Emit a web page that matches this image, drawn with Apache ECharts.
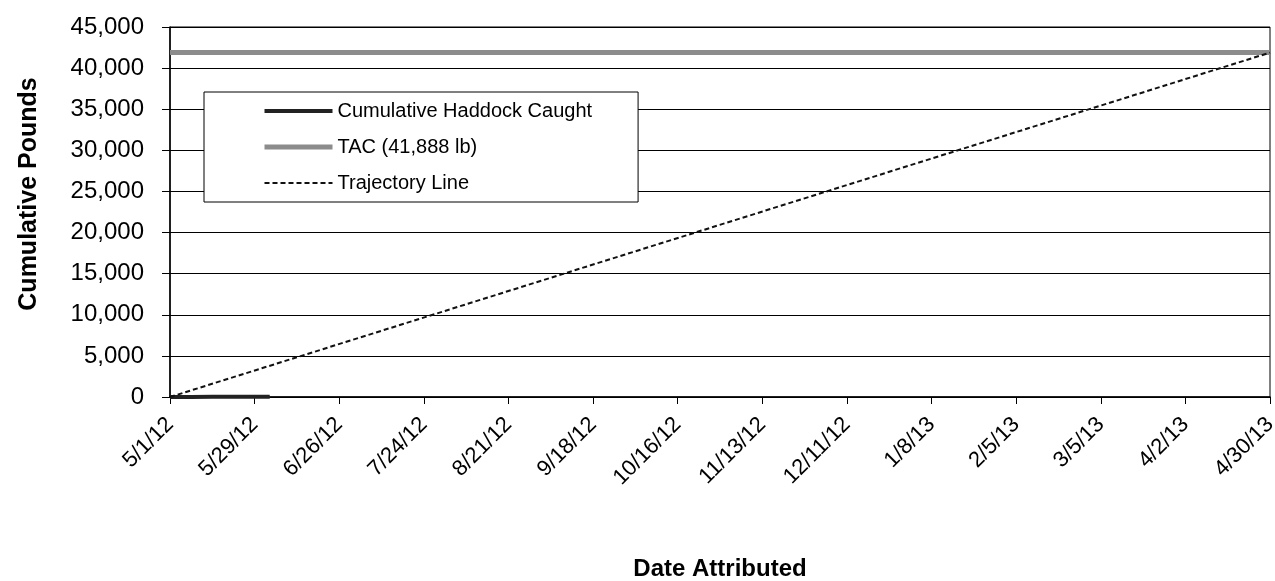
<!DOCTYPE html>
<html>
<head>
<meta charset="utf-8">
<script src="https://cdn.jsdelivr.net/npm/echarts@6/dist/echarts.min.js"></script>
<style>
  html, body { margin: 0; padding: 0; background: #fff; }
  #chart { width: 1275px; height: 581px; }
</style>
</head>
<body>
<div id="chart"></div>
<script>
// tick labels along the date axis, one every 28 days
const xTickLabels = ['5/1/12', '5/29/12', '6/26/12', '7/24/12', '8/21/12', '9/18/12', '10/16/12',
  '11/13/12', '12/11/12', '1/8/13', '2/5/13', '3/5/13', '4/2/13', '4/30/13'];

// cumulative haddock caught (lb), stays near zero
const caughtDates = ['5/1/12', '5/8/12', '5/15/12', '5/22/12', '5/29/12', '6/3/12'];
const caughtValues = [0, 10, 20, 30, 40, 45];

// total allowable catch
const tacDates = ['5/1/12', '4/30/13'];
const tacValues = [41888, 41888];

// straight-line trajectory to the TAC
const trajDates = ['5/1/12', '4/30/13'];
const trajValues = [0, 41888];

const START = Date.UTC(2012, 4, 1);
function dayOf(s) {
  const [m, d, y] = s.split('/').map(Number);
  return Math.round((Date.UTC(2000 + y, m - 1, d) - START) / 86400000);
}
function pairs(dates, vals) {
  return dates.map((d, i) => [dayOf(d), vals[i]]);
}

const FONT = '"Liberation Sans", Arial, sans-serif';
const chart = echarts.init(document.getElementById('chart'));

chart.setOption({
  backgroundColor: '#fff',
  animation: false,
  grid: {
    left: 170, right: 5, top: 27, bottom: 184,
    outerBoundsMode: 'none',
    containLabel: false,
    show: true, borderColor: '#000', borderWidth: 1
  },
  legend: {
    orient: 'vertical',
    left: 204, top: 92,
    padding: [8, 46, 8, 58],
    itemWidth: 68, itemHeight: 5, itemGap: 14,
    borderColor: '#000', borderWidth: 1,
    backgroundColor: '#fff',
    itemStyle: { opacity: 0 },
    textStyle: { fontFamily: FONT, fontSize: 20, color: '#000', lineHeight: 22 },
    data: [
      { name: 'Cumulative Haddock Caught', lineStyle: { width: 4, color: '#222' } },
      { name: 'TAC (41,888 lb)', lineStyle: { width: 5, color: '#8c8c8c' } },
      { name: 'Trajectory Line', lineStyle: { width: 2, color: '#111', type: [5, 3] } }
    ]
  },
  xAxis: {
    type: 'value',
    min: 0, max: 364, interval: 28,
    name: 'Date Attributed',
    nameLocation: 'middle',
    nameGap: 160,
    nameTextStyle: { fontFamily: FONT, fontSize: 24, fontWeight: 'bold', color: '#000' },
    axisLine: { show: true, lineStyle: { color: '#000', width: 1.5 } },
    axisTick: { show: true, length: 7, lineStyle: { color: '#000' } },
    splitLine: { show: false },
    axisLabel: {
      rotate: 45, margin: 24,
      fontFamily: FONT, fontSize: 22, color: '#000',
      formatter: v => xTickLabels[Math.round(v / 28)] || ''
    }
  },
  yAxis: {
    type: 'value',
    min: 0, max: 45000, interval: 5000,
    name: 'Cumulative Pounds',
    nameLocation: 'middle',
    nameGap: 128,
    nameTextStyle: {
      fontFamily: FONT, fontSize: 25, fontWeight: 'bold', color: '#000',
      padding: [0, 0, 0, 36]
    },
    axisLine: { show: true, lineStyle: { color: '#000', width: 1.5 } },
    axisTick: { show: true, length: 8, lineStyle: { color: '#000' } },
    splitLine: { show: true, lineStyle: { color: '#000', width: 1 } },
    axisLabel: {
      margin: 26,
      fontFamily: FONT, fontSize: 24, color: '#000',
      formatter: v => v.toLocaleString('en-US')
    }
  },
  series: [
    {
      name: 'Cumulative Haddock Caught',
      type: 'line',
      symbol: 'circle',
      showSymbol: false,
      z: 4,
      lineStyle: { color: '#222', width: 4 },
      itemStyle: { color: '#222' },
      data: pairs(caughtDates, caughtValues)
    },
    {
      name: 'TAC (41,888 lb)',
      type: 'line',
      symbol: 'circle',
      showSymbol: false,
      z: 3,
      lineStyle: { color: '#8c8c8c', width: 5 },
      itemStyle: { color: '#8c8c8c' },
      data: pairs(tacDates, tacValues)
    },
    {
      name: 'Trajectory Line',
      type: 'line',
      symbol: 'circle',
      showSymbol: false,
      z: 5,
      lineStyle: { color: '#111', width: 2, type: [5, 3] },
      itemStyle: { color: '#111' },
      data: pairs(trajDates, trajValues)
    }
  ]
});
</script>
</body>
</html>
